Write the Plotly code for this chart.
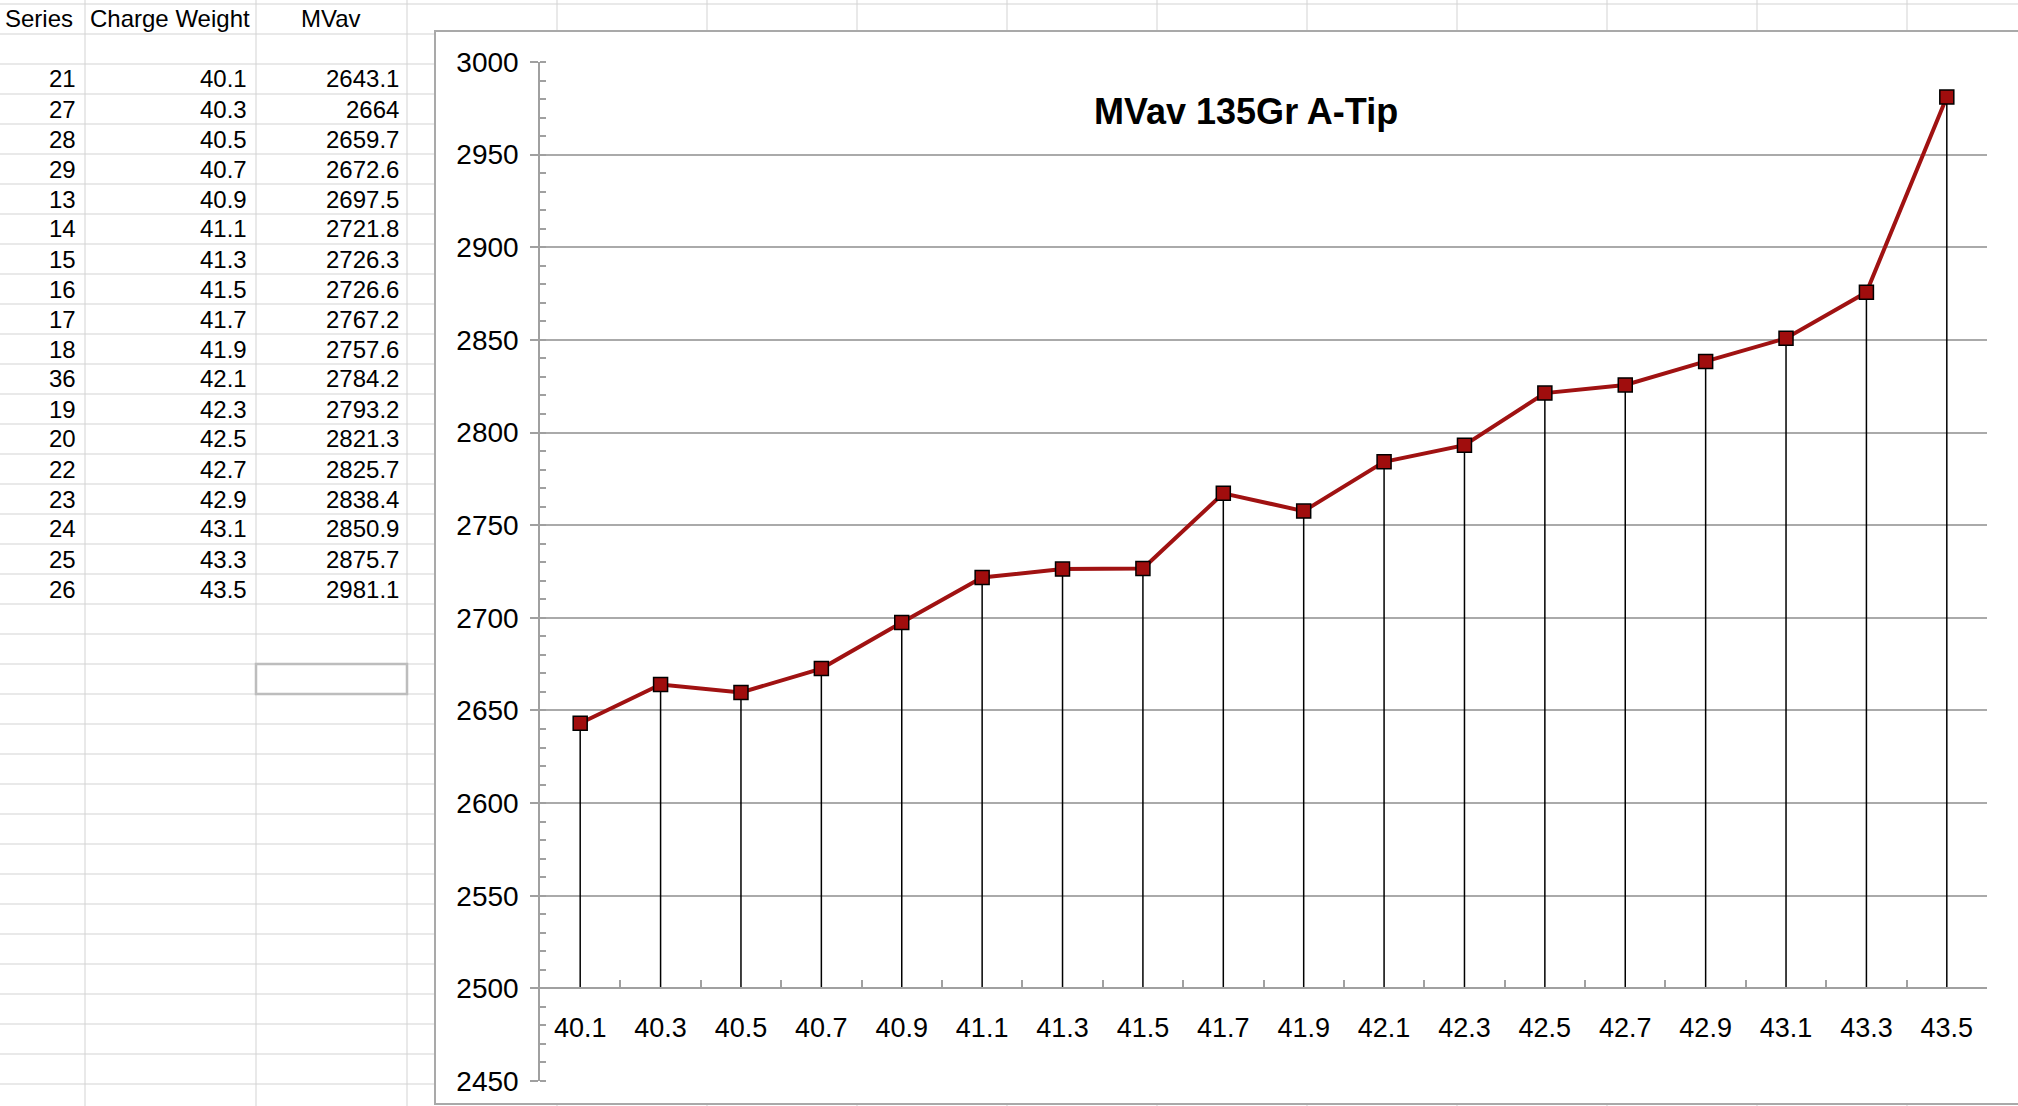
import plotly.graph_objects as go

# datos de la hoja
series = [21, 27, 28, 29, 13, 14, 15, 16, 17, 18, 36, 19, 20, 22, 23, 24, 25, 26]
charge_weight = [40.1, 40.3, 40.5, 40.7, 40.9, 41.1, 41.3, 41.5, 41.7,
                 41.9, 42.1, 42.3, 42.5, 42.7, 42.9, 43.1, 43.3, 43.5]
mvav = [2643.1, 2664, 2659.7, 2672.6, 2697.5, 2721.8, 2726.3, 2726.6, 2767.2,
        2757.6, 2784.2, 2793.2, 2821.3, 2825.7, 2838.4, 2850.9, 2875.7, 2981.1]
headers = ["Series", "Charge Weight", "MVav"]
title = "MVav 135Gr A-Tip"
y_floor = 2500

W, H = 2018, 1106
FONT = "Liberation Sans, Arial, Helvetica, sans-serif"


def px(x):
    return x / W


def py(y):
    return 1 - y / H


x_labels = [f"{c:.1f}" for c in charge_weight]

# columnas de la hoja (bordes en pixeles)
col_edges = [0, 85, 256, 407]
k = 1
while 407 + 150 * k < W:
    col_edges.append(407 + 150 * k)
    k += 1
row_top, row_h = 4, 30

shapes = []
for x in col_edges[1:]:
    shapes.append(dict(type="line", xref="paper", yref="paper", layer="below",
                       x0=px(x), x1=px(x), y0=0, y1=1,
                       line=dict(color="#d3d3d3", width=1)))
y = row_top
while y < H:
    shapes.append(dict(type="line", xref="paper", yref="paper", layer="below",
                       x0=0, x1=1, y0=py(y), y1=py(y),
                       line=dict(color="#d3d3d3", width=1)))
    y += row_h

# celda seleccionada
shapes.append(dict(type="rect", xref="paper", yref="paper", layer="below",
                   x0=px(256), x1=px(407), y0=py(694), y1=py(664),
                   line=dict(color="#bdbdbd", width=2.5)))

# caja del grafico
shapes.append(dict(type="rect", xref="paper", yref="paper", layer="below",
                   x0=px(435), x1=px(W + 20), y0=py(1104), y1=py(31),
                   fillcolor="white", line=dict(color="#a9a9a9", width=2)))

annotations = []
# cabeceras
annotations.append(dict(text=headers[0], x=px(3), y=py(19), xanchor="left"))
annotations.append(dict(text=headers[1], x=px(170), y=py(19), xanchor="center"))
annotations.append(dict(text=headers[2], x=px(331), y=py(19), xanchor="center"))
# filas
for i in range(len(series)):
    yc = py(64 + row_h * i + row_h / 2)
    annotations.append(dict(text=str(series[i]), x=px(78), y=yc, xanchor="right"))
    annotations.append(dict(text=x_labels[i], x=px(249), y=yc, xanchor="right"))
    annotations.append(dict(text=f"{mvav[i]:g}", x=px(401), y=yc, xanchor="right"))
for a in annotations:
    a.update(xref="paper", yref="paper", yanchor="middle", showarrow=False,
             font=dict(family=FONT, size=24, color="black"))

annotations.append(dict(text="<b>" + title + "</b>", x=px(1246), y=py(112),
                        xref="paper", yref="paper", xanchor="center",
                        yanchor="middle", showarrow=False,
                        font=dict(family=FONT, size=36, color="black")))

fig = go.Figure()
fig.add_trace(go.Scatter(
    x=x_labels, y=mvav, mode="lines+markers",
    line=dict(color="#a01212", width=4),
    marker=dict(symbol="square", size=14, color="#a00d0d",
                line=dict(color="black", width=1.5)),
    error_y=dict(type="data", symmetric=False, array=[0] * len(mvav),
                 arrayminus=[v - y_floor for v in mvav],
                 color="black", thickness=1.5, width=0),
    showlegend=False,
))

fig.update_layout(
    width=W, height=H, autosize=False,
    margin=dict(l=0, r=0, t=0, b=0, autoexpand=False),
    paper_bgcolor="white", plot_bgcolor="rgba(0,0,0,0)",
    shapes=shapes, annotations=annotations,
    font=dict(family=FONT, color="black"),
    xaxis=dict(
        domain=[px(540), px(1987)], anchor="free", position=py(988),
        type="category", range=[-0.5, len(x_labels) - 0.5],
        showgrid=False, showline=True, linecolor="#a0a0a0", linewidth=1.5,
        ticks="inside", tickson="boundaries", ticklen=7, tickwidth=1.5,
        tickcolor="#a0a0a0", tickfont=dict(size=27, color="black"),
        ticklabelstandoff=16, automargin=False,
    ),
    # linea de abajo (2450)
    xaxis2=dict(
        domain=[px(540), px(1987)], anchor="y", overlaying="x", side="bottom",
        showline=True, linecolor="#a0a0a0", linewidth=1.5,
        showgrid=False, ticks="", showticklabels=False, automargin=False,
    ),
    yaxis=dict(
        domain=[py(1081), py(62)], range=[2450, 3000],
        dtick=50, tick0=2450, showgrid=True, gridcolor="#aaaaaa", gridwidth=1.5,
        showline=True, linecolor="#a0a0a0", linewidth=1.5, zeroline=False,
        ticks="outside", ticklen=8, tickwidth=1.5, tickcolor="#a0a0a0",
        tickfont=dict(size=28, color="black"), ticklabelstandoff=6,
        automargin=False,
        minor=dict(dtick=10, ticks="inside", ticklen=6, tickwidth=1.5,
                   tickcolor="#a0a0a0", showgrid=False),
    ),
)

# la pagina sin margenes, la figura arriba a la izquierda
fix_page = ("document.body.style.margin='0';"
            "document.body.style.overflow='hidden';"
            "var d=document.getElementById('{plot_id}');"
            "d.style.position='absolute';d.style.left='0px';d.style.top='0px';")

fig.write_html("out.html", post_script=fix_page,
               config={"displayModeBar": False})
